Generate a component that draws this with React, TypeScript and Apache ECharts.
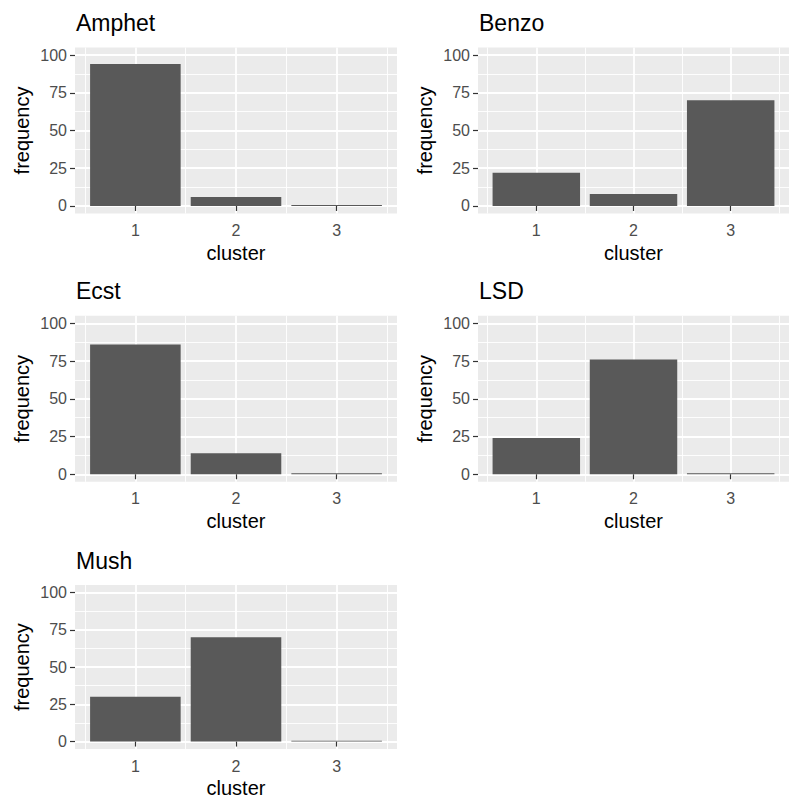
import React, { useEffect, useRef } from "react";
import * as echarts from "echarts";

const clusters = [1, 2, 3];
const drugs = ["Amphet", "Benzo", "Ecst", "LSD", "Mush"];
const amphet = [94, 6, 0.6];
const benzo = [22, 8, 70];
const ecst = [86, 14, 0.6];
const lsd = [24, 76, 0.6];
const mush = [30, 70, 0.6];
const seriesValues = [amphet, benzo, ecst, lsd, mush];
const yTicks = [0, 25, 50, 75, 100];
const yMinor = [12.5, 37.5, 62.5, 87.5];
const xMinor = [0.5, 1.5, 2.5, 3.5];

const FONT = "'Liberation Sans', Arial, Helvetica, sans-serif";

export default function App() {
  const ref = useRef<HTMLDivElement>(null);
  useEffect(() => {
    if (!ref.current) return;
    const chart = echarts.init(ref.current, undefined, { renderer: "svg" });
    const colLeft = [75, 478];
    const rowTop = [47.5, 315.8, 585.1];
    const W = 322;
    const H = 166;
    const grids: any[] = [];
    const xAxes: any[] = [];
    const yAxes: any[] = [];
    const series: any[] = [];
    const graphics: any[] = [];
    drugs.forEach((name, i) => {
      const col = i % 2;
      const row = Math.floor(i / 2);
      const left = colLeft[col];
      const top = rowTop[row];
      grids.push({
        left,
        top,
        width: W,
        height: H,
        show: true,
        backgroundColor: "#EBEBEB",
        borderWidth: 0,
        containLabel: false,
      });
      xAxes.push({
        type: "value",
        gridIndex: i,
        min: 0.4,
        max: 3.6,
        position: "bottom",
        name: "cluster",
        nameLocation: "middle",
        nameGap: 29,
        nameTextStyle: { fontFamily: FONT, fontSize: 20, color: "#000" },
        axisLine: { show: false },
        axisTick: {
          show: true,
          customValues: clusters,
          length: 5,
          lineStyle: { color: "#333333", width: 1.2 },
        },
        axisLabel: {
          customValues: clusters,
          margin: 9,
          fontFamily: FONT,
          fontSize: 16,
          color: "#4D4D4D",
          formatter: (v: number) => String(v),
        },
        splitLine: { show: true, lineStyle: { color: "#FFFFFF", width: 1.8 } },
        z: 1,
      });
      xAxes.push({
        type: "value",
        gridIndex: i,
        min: 0.4,
        max: 3.6,
        position: "bottom",
        axisLine: { show: false },
        axisTick: { show: false, customValues: xMinor },
        axisLabel: { show: false, customValues: xMinor },
        splitLine: { show: true, lineStyle: { color: "#FFFFFF", width: 0.9 } },
        z: 0,
      });
      yAxes.push({
        type: "value",
        gridIndex: i,
        min: -5,
        max: 105,
        position: "left",
        name: "frequency",
        nameLocation: "middle",
        nameGap: 43,
        nameRotate: 90,
        nameTextStyle: { fontFamily: FONT, fontSize: 20, color: "#000" },
        axisLine: { show: false },
        axisTick: {
          show: true,
          customValues: yTicks,
          length: 5,
          lineStyle: { color: "#333333", width: 1.2 },
        },
        axisLabel: {
          customValues: yTicks,
          margin: 8,
          fontFamily: FONT,
          fontSize: 16,
          color: "#4D4D4D",
        },
        splitLine: { show: true, lineStyle: { color: "#FFFFFF", width: 1.8 } },
        z: 1,
      });
      yAxes.push({
        type: "value",
        gridIndex: i,
        min: -5,
        max: 105,
        position: "left",
        axisLine: { show: false },
        axisTick: { show: false, customValues: yMinor },
        axisLabel: { show: false, customValues: yMinor },
        splitLine: { show: true, lineStyle: { color: "#FFFFFF", width: 0.9 } },
        z: 0,
      });
      const vals = seriesValues[i];
      series.push({
        type: "custom",
        xAxisIndex: 2 * i,
        yAxisIndex: 2 * i,
        data: clusters.map((c, k) => [c, vals[k]]),
        encode: { x: 0, y: 1 },
        z: 5,
        renderItem: (params: any, api: any) => {
          const x = api.value(0);
          const y = api.value(1);
          const p0 = api.coord([x - 0.45, 0]);
          const p1 = api.coord([x + 0.45, y]);
          return {
            type: "rect",
            shape: {
              x: p0[0],
              y: p1[1],
              width: p1[0] - p0[0],
              height: p0[1] - p1[1],
            },
            style: { fill: "#595959" },
          };
        },
      });
      graphics.push({
        type: "text",
        left: left + 1,
        top: top - 36,
        style: {
          text: name,
          font: `23px ${FONT}`,
          fill: "#000",
        },
      });
    });
    chart.setOption({
      animation: false,
      backgroundColor: "#FFFFFF",
      grid: grids,
      xAxis: xAxes,
      yAxis: yAxes,
      series,
      graphic: graphics,
    });
    return () => chart.dispose();
  }, []);
  return (
    <div
      ref={ref}
      style={{ position: "fixed", left: 0, top: 0, width: 789, height: 799 }}
    />
  );
}
